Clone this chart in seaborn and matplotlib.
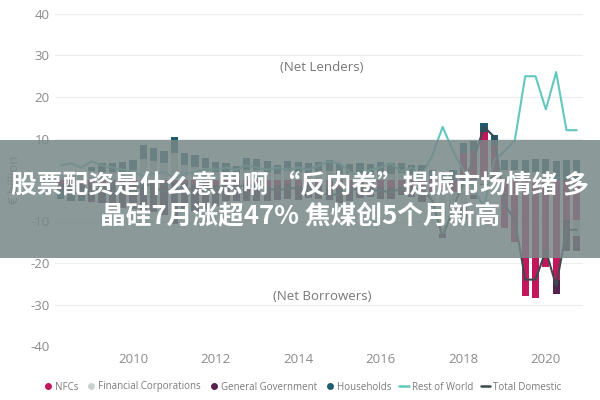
import numpy as np
import pandas as pd
import matplotlib
matplotlib.use("Agg")
import matplotlib.pyplot as plt
from matplotlib.lines import Line2D
from matplotlib.patches import Rectangle
import seaborn as sns

# ---- data (quarterly, 2008Q2 .. 2020Q4) ----
start_year = 2008
start_quarter = 2
nfcs = [-1.0, -1.2, -1.0, -0.8, -0.5, -0.5, -0.8, -0.5,
        -0.5, -0.7, -0.5, -0.6, -0.8, -1.0, -1.0, -1.2,
        -1.0, -1.2, -1.0, -1.0, -1.5, -1.2, -1.0, -1.5, -1.3, -1.5, -1.8, -2.0, -1.8, -1.5, -1.6,
        -1.8, -2.0, -1.5, -2.0, -3.5, -3.0, -2.0, -3.0, 6.5, 7.0, 11.5, 8.5,
        -11.5, -15.0, -28.0, -28.5, -21.0, -24.0, -9.6, -9.6]
financial = [1.5, 1.8, 2.0, 2.2, 2.0, 2.0, 2.0, 2.3,
             5.0, 4.5, 4.0, 6.5, 3.5, 3.2, 2.8, 2.0,
             1.8, 1.4, 2.5, 2.3, 2.0, 1.5, 2.2, 2.0, 1.8, 2.0, 2.2, 1.5, 1.6, 1.8, 1.5,
             1.8, 1.5, 1.6, 1.2, 1.0, -2.5, -11.0, -3.0, -6.0, -3.5, -1.0, -0.4,
             2.3, 2.3, 2.0, 2.0, 1.8, 0.0, 0.0, -4.0]
government = [-1.5, -2.0, -3.0, -4.5, -5.0, -5.5, -6.0, -6.5,
              -7.5, -7.0, -8.0, -10.0, -7.0, -6.5, -6.0, -5.0,
              -4.0, -3.8, -4.0, -4.0, -3.5, -3.5, -3.5, -3.2, -3.0, -3.0, -3.0, -3.5, -3.3, -2.8, -2.5,
              -2.8, -2.5, -2.0, -2.2, -1.8, -1.0, -1.0, -0.5, -3.5, -1.1, -0.2, 0.0,
              0.0, 0.0, 0.0, 0.0, 0.0, -3.5, -7.4, -3.4]
households = [-2.0, -1.8, -1.0, 1.0, 2.0, 2.0, 2.3, 2.5,
              3.4, 3.2, 3.0, 3.9, 3.0, 2.8, 2.6, 2.3,
              2.2, 2.0, 2.8, 2.7, 2.6, 2.0, 2.4, 2.3, 2.2, 2.4, 2.5, 2.3, 2.2, 2.4, 2.3,
              2.6, 2.5, 2.4, 2.5, 2.5, 2.5, 2.0, 2.5, 2.5, 2.4, 2.2, 2.3,
              2.5, 2.5, 2.8, 3.0, 3.2, 4.5, 4.8, 4.8]
rest_of_world = [3.5, 4.0, 3.0, 4.5, 3.5, 3.0, 2.5, 2.0,
                 1.0, 1.5, 2.0, 0.5, 1.5, 2.0, 2.5, 2.5,
                 3.0, 2.5, 3.5, 3.0, 2.5, 3.0, 2.5, 3.0, 2.5, 3.5, 4.5, 4.0, 2.0, 1.0, 2.5,
                 3.0, 4.0, 2.0, 3.0, 1.0, 6.0, 12.8, 7.0, 2.4, -2.0, -6.5, 4.8,
                 7.0, 9.6, 25.0, 25.0, 17.0, 26.0, 12.0, 12.0]
total_domestic = [-3.0, -3.2, -2.8, -2.5, -2.0, -2.5, -3.0, -2.5,
                  -1.0, -1.5, -3.0, -2.0, -2.0, -2.5, -2.5, -2.0,
                  -1.5, -2.0, -1.0, -1.5, -2.0, -2.5, -2.0, -2.0, -2.5, -3.0, -3.5, -3.5, -2.5, -2.0, -2.5,
                  -2.5, -3.0, -2.0, -2.5, -2.0, -5.0, -13.7, -7.0, -0.5, 4.8, 12.8, 10.4,
                  -6.0, -9.6, -24.0, -24.0, -17.0, -25.5, -12.0, -12.0]
year_ticks = [2010, 2012, 2014, 2016, 2018, 2020]
y_ticks = [-40, -30, -20, -10, 0, 10, 20, 30, 40]
series_names = ["NFCs", "Financial Corporations", "General Government", "Households"]
line_names = ["Rest of World", "Total Domestic"]
banner_line1 = "股票配资是什么意思啊 “反内卷”提振市场情绪 多"
banner_line2 = "晶硅7月涨超47% 焦煤创5个月新高"

colors = {
    "NFCs": "#c2185b",
    "Financial Corporations": "#cbd1d3",
    "General Government": "#55214d",
    "Households": "#1d5c6c",
    "Rest of World": "#62c7bf",
    "Total Domestic": "#3c4a50",
}

n = len(nfcs)
t = np.array([start_year + (start_quarter - 1) / 4 + 0.25 * i for i in range(n)])
df = pd.DataFrame({"t": t, "NFCs": nfcs, "Financial Corporations": financial,
                   "General Government": government, "Households": households})

sns.set_theme(style="white")
plt.rcParams["font.family"] = ["Open Sans", "DejaVu Sans"]
plt.rcParams["axes.unicode_minus"] = False

fig = plt.figure(figsize=(6, 4), dpi=100)
ax = fig.add_axes([55 / 600, 1 - 346 / 400, (583 - 55) / 600, (346 - 14) / 400])

# diverging stacked bars: draw cumulative layers from outermost to innermost
vals = df[series_names].to_numpy()
pos = np.clip(vals, 0, None).cumsum(axis=1)
neg = np.clip(vals, None, 0).cumsum(axis=1)
for k in range(len(series_names) - 1, -1, -1):
    name = series_names[k]
    for cum in (pos, neg):
        sns.barplot(x=df["t"], y=cum[:, k], native_scale=True, orient="x",
                    color=colors[name], width=0.7, saturation=1,
                    errorbar=None, linewidth=0, ax=ax)

sns.lineplot(x=t, y=rest_of_world, color=colors["Rest of World"], linewidth=1.5, ax=ax)
sns.lineplot(x=t, y=total_domestic, color=colors["Total Domestic"], linewidth=1.5, ax=ax)

ax.set_xlim(2008.11, 2020.9)
ax.set_ylim(-40, 40)
ax.set_xticks(year_ticks)
ax.set_xticklabels([str(y) for y in year_ticks])
ax.set_yticks(y_ticks)
ax.set_yticklabels([str(v) for v in y_ticks])
ax.tick_params(axis="both", length=0, labelsize=9.5, colors="#8a8a8a")
ax.tick_params(axis="y", pad=4)
ax.tick_params(axis="x", pad=5)
ax.set_xlabel("")
ax.set_ylabel("")
for s in ax.spines.values():
    s.set_visible(False)
ax.grid(axis="y", color="#ececec", linewidth=0.8)
ax.grid(axis="x", visible=False)
ax.set_axisbelow(True)

ax.text(2014.58, 27.2, "(Net Lenders)", ha="center", va="center", fontsize=9.5, color="#777777")
ax.text(2014.58, -28.0, "(Net Borrowers)", ha="center", va="center", fontsize=9.5, color="#777777")
fig.text(15 / 600, 1 - 180 / 400, "€ billion", rotation=90, ha="center", va="center",
         fontsize=9.5, color="#8a8a8a")

handles = [Line2D([], [], marker="o", linestyle="none", markersize=4, color=colors[nm]) for nm in series_names]
handles += [Line2D([], [], color=colors[nm], linewidth=1.8) for nm in line_names]
leg = fig.legend(handles, series_names + line_names, loc="center", bbox_to_anchor=(302 / 600, 1 - 387 / 400),
                 ncol=6, frameon=False, fontsize=7, handlelength=1.0, handletextpad=0.25,
                 columnspacing=0.8, labelcolor="#7a7a7a")

# overlay banner
fig.add_artist(Rectangle((0, 1 - 258 / 400), 1, 118 / 400, transform=fig.transFigure,
                         facecolor=(0.47, 0.53, 0.53), alpha=0.85, edgecolor="none", zorder=10))
fig.text(0.5, 1 - 186 / 400, banner_line1, ha="center", va="center", fontsize=18.5,
         fontweight="bold", color="white", family=["Noto Sans CJK SC", "DejaVu Sans"], zorder=11)
fig.text(0.5, 1 - 216 / 400, banner_line2, ha="center", va="center", fontsize=18.5,
         fontweight="bold", color="white", family=["Noto Sans CJK SC", "DejaVu Sans"], zorder=11)

fig.savefig("out.png", dpi=100)
